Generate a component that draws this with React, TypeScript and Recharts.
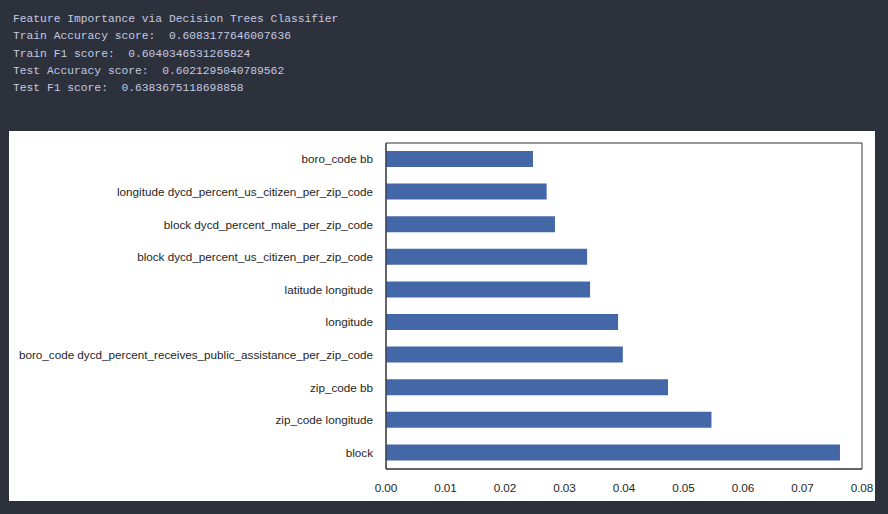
import { BarChart, Bar, XAxis, YAxis, ReferenceArea } from 'recharts';

// feature importances, top to bottom as in the plot
const features = [
  'boro_code bb',
  'longitude dycd_percent_us_citizen_per_zip_code',
  'block dycd_percent_male_per_zip_code',
  'block dycd_percent_us_citizen_per_zip_code',
  'latitude longitude',
  'longitude',
  'boro_code dycd_percent_receives_public_assistance_per_zip_code',
  'zip_code bb',
  'zip_code longitude',
  'block',
];
const importances = [0.0247, 0.027, 0.0284, 0.0338, 0.0343, 0.039, 0.0398, 0.0474, 0.0547, 0.0763];
const xTicks = [0, 0.01, 0.02, 0.03, 0.04, 0.05, 0.06, 0.07, 0.08];

const outputLines = [
  'Feature Importance via Decision Trees Classifier',
  'Train Accuracy score:  0.6083177646007636',
  'Train F1 score:  0.6040346531265824',
  'Test Accuracy score:  0.6021295040789562',
  'Test F1 score:  0.6383675118698858',
];

const data = features.map((name, i) => ({ name, value: importances[i] }));

const frame = '#333333';
const labelFont = '"Liberation Sans", Arial, sans-serif';
const tickStyle = { fill: '#262626', fontSize: 11.7, fontFamily: labelFont };

// plain text tick so long feature names don't wrap
const FeatureTick = (props: any) => {
  const { x, y, payload } = props;
  return (
    <text x={x} y={y} dy="0.355em" textAnchor="end" fill="#262626" fontSize={11.7} fontFamily={labelFont}>
      {payload.value}
    </text>
  );
};

export default function App() {
  return (
    <div
      style={{
        position: 'absolute',
        left: 0,
        top: 0,
        width: 888,
        height: 514,
        background: '#2c313c',
        overflow: 'hidden',
      }}
    >
      <pre
        style={{
          position: 'absolute',
          left: 13,
          top: 11,
          margin: 0,
          fontFamily: '"Liberation Mono", "DejaVu Sans Mono", monospace',
          fontSize: 11.3,
          lineHeight: '17.3px',
          color: '#c4c9e2',
        }}
      >
        {outputLines.join('\n')}
      </pre>
      <div style={{ position: 'absolute', left: 9, top: 131, width: 866, height: 370, background: '#ffffff' }}>
        <BarChart
          width={866}
          height={370}
          data={data}
          layout="vertical"
          margin={{ top: 12, right: 13, bottom: 0, left: 0 }}
          barSize={16}
        >
          <XAxis
            type="number"
            domain={[0, 0.08]}
            ticks={xTicks}
            tickFormatter={(v: number) => v.toFixed(2)}
            height={32}
            axisLine={{ stroke: frame }}
            tickLine={false}
            tickSize={13}
            tickMargin={2}
            tick={tickStyle}
            interval={0}
          />
          <YAxis
            type="category"
            dataKey="name"
            width={377}
            axisLine={{ stroke: frame }}
            tickLine={false}
            tickSize={11}
            tickMargin={2}
            tick={<FeatureTick />}
            interval={0}
          />
          <Bar dataKey="value" fill="#4467a8" isAnimationActive={false} />
          <ReferenceArea x1={0} x2={0.08} fill="none" stroke={frame} strokeWidth={1} ifOverflow="visible" />
        </BarChart>
      </div>
    </div>
  );
}
